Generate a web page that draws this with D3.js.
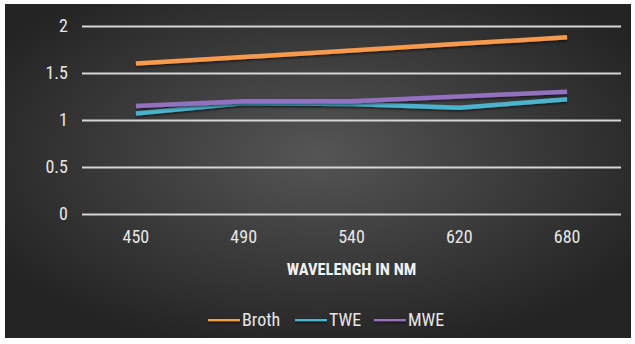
<!DOCTYPE html>
<html>
<head>
<meta charset="utf-8">
<script src="https://cdn.jsdelivr.net/npm/d3@7"></script>
<style>
  html, body { margin: 0; padding: 0; background: #fff; }
  svg { display: block; }
</style>
</head>
<body>
<svg id="chart" width="635" height="344"></svg>
<script>
// Wavelength categories (nm) and absorbance readings per extract
const categories = ["450", "490", "540", "620", "680"];
const broth = [1.6, 1.67, 1.74, 1.81, 1.88];
const twe   = [1.07, 1.18, 1.17, 1.13, 1.22];
const mwe   = [1.15, 1.2, 1.2, 1.25, 1.3];
const yTicks = [0, 0.5, 1, 1.5, 2];
const seriesNames = ["Broth", "TWE", "MWE"];
const seriesColors = ["#f79a4b", "#4bb3cc", "#9470c0"];

const series = [broth, twe, mwe].map((values, i) => ({
  name: seriesNames[i], color: seriesColors[i], values
}));

const svg = d3.select("#chart");
const W = 635, H = 344;
const font = "'Liberation Sans Narrow', 'Roboto Condensed', Roboto, sans-serif";

// Dark panel with a soft radial highlight
const defs = svg.append("defs");
const grad = defs.append("radialGradient").attr("id", "bg")
  .attr("cx", "50%").attr("cy", "45%").attr("r", "60%");
grad.append("stop").attr("offset", "0%").attr("stop-color", "#555555");
grad.append("stop").attr("offset", "100%").attr("stop-color", "#242424");
const shadow = defs.append("filter").attr("id", "shadow")
  .attr("filterUnits", "userSpaceOnUse")
  .attr("x", 0).attr("y", 0).attr("width", W).attr("height", H);
shadow.append("feDropShadow").attr("dx", 0).attr("dy", 1.5)
  .attr("stdDeviation", 1).attr("flood-color", "#000").attr("flood-opacity", 0.6);

svg.append("rect").attr("x", 5).attr("y", 4).attr("width", 626).attr("height", 334)
  .attr("fill", "url(#bg)");

const margin = { left: 82, right: 14, top: 26, bottom: 130 };
const x = d3.scaleBand().domain(categories).range([margin.left, W - margin.right]);
const y = d3.scaleLinear().domain([0, 2]).range([H - margin.bottom, margin.top]);

// Horizontal gridlines with value labels
const yAxis = d3.axisLeft(y).tickValues(yTicks).tickSize(-(W - margin.left - margin.right))
  .tickPadding(14).tickFormat(d3.format("~g"));
const gy = svg.append("g").attr("transform", `translate(${margin.left},0)`).call(yAxis);
gy.select(".domain").remove();
gy.selectAll(".tick line").attr("stroke", "#d6d6d6").attr("stroke-width", 2);
gy.selectAll(".tick text").attr("fill", "#e6e6e6").style("font-family", font)
  .style("font-size", "18px");

// Category labels along the bottom
const xAxis = d3.axisBottom(x).tickSize(0).tickPadding(16);
const gx = svg.append("g").attr("transform", `translate(0,${y(0)})`).call(xAxis);
gx.select(".domain").remove();
gx.selectAll(".tick text").attr("fill", "#e6e6e6").style("font-family", font)
  .style("font-size", "18px");

// Axis title
svg.append("text").attr("x", (margin.left + W - margin.right) / 2).attr("y", 275)
  .attr("text-anchor", "middle").attr("fill", "#f2f2f2")
  .style("font-family", font).style("font-weight", "bold").style("font-size", "16.5px")
  .text("WAVELENGH IN NM");

// Series lines
const line = d3.line()
  .x((d, i) => x(categories[i]) + x.bandwidth() / 2)
  .y(d => y(d));
svg.append("g").selectAll("path").data(series).join("path")
  .attr("d", d => line(d.values))
  .attr("fill", "none")
  .attr("stroke", d => d.color)
  .attr("stroke-width", 4.5)
  .attr("filter", "url(#shadow)");

// Legend
const legendX = [208, 295, 374];
const lg = svg.append("g").selectAll("g").data(series).join("g")
  .attr("transform", (d, i) => `translate(${legendX[i]},319)`);
lg.append("rect").attr("x", 0).attr("y", -2.25).attr("width", 32).attr("height", 4.5)
  .attr("fill", d => d.color).attr("filter", "url(#shadow)");
lg.append("text").attr("x", 34).attr("y", 6.5).attr("fill", "#e6e6e6")
  .style("font-family", font).style("font-size", "18px")
  .text(d => d.name);
</script>
</body>
</html>
